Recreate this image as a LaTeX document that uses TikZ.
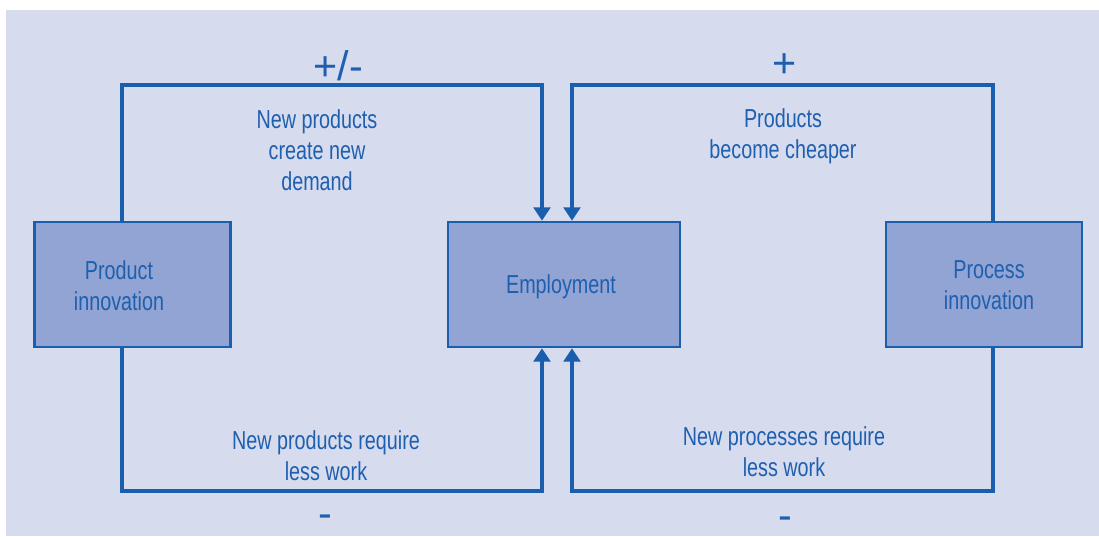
\documentclass[tikz,border=0pt]{standalone}
\usepackage{fontspec}
\setmainfont{Liberation Sans}[FakeStretch=0.76]
\newfontfamily\signfont{Liberation Sans}
\usetikzlibrary{arrows.meta}
\definecolor{bgc}{HTML}{D6DBEE}
\definecolor{boxc}{HTML}{91A4D3}
\definecolor{linec}{HTML}{1B5EAE}
\definecolor{txtc}{HTML}{1F5FB0}
\begin{document}
\begin{tikzpicture}[x=0.75pt,y=-0.75pt,
  every node/.style={text=txtc,font=\fontsize{19.5}{23.3}\selectfont,inner sep=0pt},
  boxnode/.style={draw=linec,line width=2pt,fill=boxc,minimum width=196*0.75pt,minimum height=125*0.75pt},
  link/.style={draw=linec,line width=3pt},
  arr/.style={link,-{Triangle[length=10pt,width=12.5pt]}},
  lbl/.style={align=center},
  sign/.style={font=\signfont\fontsize{31}{36}\selectfont},
  minus/.style={sign,anchor=base,text depth=0pt,text height=0.5em}]
\useasboundingbox (0,0) rectangle (1099,536);
\fill[white] (0,0) rectangle (1099,536);
\fill[bgc] (6,10) rectangle (1099,536);

% boxes
\node[boxnode] (prod) at (132.5,284.5) {};
\node[boxnode,minimum width=232*0.75pt] (emp) at (564,284.5) {};
\node[boxnode] (proc) at (984,284.5) {};
\node[lbl] (prodtxt) at (119,285.5) {Product\\innovation};
\node[lbl] (emptxt) at (561,287) {Employment};
\node[lbl] (proctxt) at (989,285.5) {Process\\innovation};

% corner points of the feedback loops
\coordinate (tl) at (122,85);
\coordinate (tr) at (993,85);
\coordinate (bl) at (122,491);
\coordinate (br) at (993,491);
\coordinate (ea) at (542,0);
\coordinate (eb) at (572,0);

% loops
\draw[arr] (prod.north -| tl) -- (tl) -| (emp.north -| ea);
\draw[arr] (proc.north -| tr) -- (tr) -| (emp.north -| eb);
\draw[arr] (prod.south -| bl) -- (bl) -| (emp.south -| ea);
\draw[arr] (proc.south -| br) -- (br) -| (emp.south -| eb);

% loop labels
\node[lbl] (t1) at (317,150.5) {New products\\create new\\demand};
\node[lbl] (t2) at (783,136) {Products\\become cheaper};
\node[lbl] (t3) at (326,455.5) {New products require\\less work};
\node[lbl] (t4) at (784,452) {New processes require\\less work};

% signs
\node[sign] (s1) at (338.5,66) {+/-};
\node[sign] (s2) at (784.5,66) {+};
\node[minus] (s3) at (325.5,527.5) {-};
\node[minus] (s4) at (785,529) {-};
\end{tikzpicture}
\end{document}
